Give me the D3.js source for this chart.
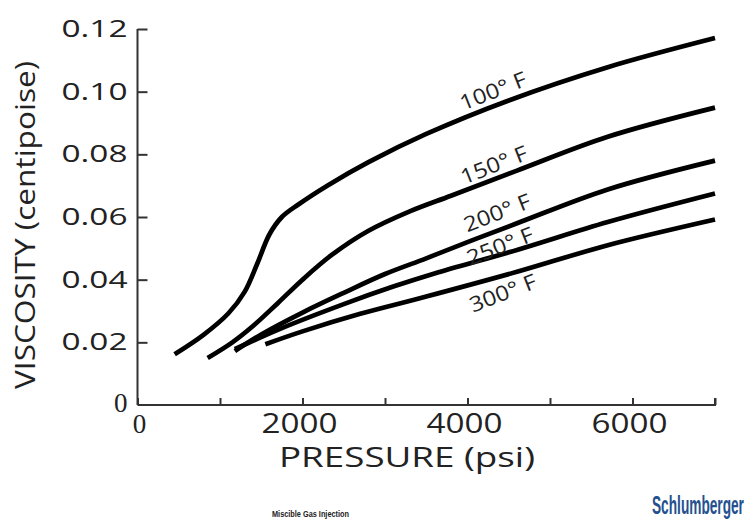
<!DOCTYPE html>
<html>
<head>
<meta charset="utf-8">
<script src="https://cdn.jsdelivr.net/npm/d3@7"></script>
<style>
  html, body { margin: 0; padding: 0; background: #fff; }
  svg { display: block; }
</style>
</head>
<body>
<svg id="chart" width="753" height="521"></svg>
<script>
// Gas viscosity vs pressure at several temperatures
const temperatures = ["100° F", "150° F", "200° F", "250° F", "300° F"];

const pressure100 = [450, 800, 1100, 1300, 1450, 1600, 1750, 1950, 2300, 2800, 3500, 4500, 5700, 7000];
const viscosity100 = [0.0162, 0.0224, 0.0292, 0.0362, 0.0450, 0.0545, 0.0600, 0.0640, 0.0700, 0.0775, 0.0865, 0.0972, 0.1078, 0.1171];

const pressure150 = [850, 1150, 1400, 1700, 2000, 2350, 2800, 3300, 3800, 4600, 5700, 7000];
const viscosity150 = [0.0150, 0.0200, 0.0252, 0.0325, 0.0400, 0.0478, 0.0556, 0.0618, 0.0668, 0.0748, 0.0856, 0.0949];

const pressure200 = [1180, 1500, 2000, 2500, 3000, 3500, 4000, 4600, 5700, 7000];
const viscosity200 = [0.0172, 0.0225, 0.0295, 0.0358, 0.0418, 0.0468, 0.0520, 0.0580, 0.0688, 0.0780];

const pressure250 = [1180, 1700, 2500, 3100, 3600, 4600, 5700, 7000];
const viscosity250 = [0.0178, 0.0240, 0.0322, 0.0378, 0.0420, 0.0495, 0.0584, 0.0675];

const pressure300 = [1550, 2000, 2700, 3500, 4600, 5700, 7000];
const viscosity300 = [0.0194, 0.0235, 0.0291, 0.0346, 0.0425, 0.0510, 0.0592];

// where each temperature label sits, in data units
const labelPressure = [4310, 4320, 4360, 4395, 4430];
const labelViscosity = [0.1002, 0.0766, 0.0613, 0.0507, 0.0357];

const xTicks = [0, 1000, 2000, 3000, 4000, 5000, 6000, 7000];
const xTickLabels = ["", "", "2000", "", "4000", "", "6000", ""];
const yTicks = [0.02, 0.04, 0.06, 0.08, 0.10, 0.12];
const yTickLabels = ["0.02", "0.04", "0.06", "0.08", "0.10", "0.12"];

const series = [
  [pressure100, viscosity100],
  [pressure150, viscosity150],
  [pressure200, viscosity200],
  [pressure250, viscosity250],
  [pressure300, viscosity300]
].map(([p, v]) => p.map((d, i) => ({ p: d, v: v[i] })));

const svg = d3.select("#chart");
const x = d3.scaleLinear().domain([0, 7000]).range([137.5, 715]);
const y = d3.scaleLinear().domain([0, 0.12]).range([405, 29]);

const axisColor = "#333";
const sansFont = "'Open Sans', 'DejaVu Sans', sans-serif";

// x axis (ticks point up into the plot)
const xAxis = svg.append("g")
  .attr("transform", `translate(0,${y(0)})`)
  .call(d3.axisTop(x).tickValues(xTicks).tickSize(7).tickFormat(""));
xAxis.select(".domain").attr("d", `M${x(0)},0H${x(7000)}V-7`).attr("stroke", axisColor).attr("stroke-width", 2);
xAxis.selectAll(".tick line").attr("stroke", axisColor).attr("stroke-width", 2);

// y axis (ticks point right into the plot)
const yAxis = svg.append("g")
  .attr("transform", `translate(${x(0)},0)`)
  .call(d3.axisRight(y).tickValues(yTicks).tickSize(10).tickFormat(""));
yAxis.select(".domain").attr("d", `M0,${y(0)}V${y(0.12)}`).attr("stroke", axisColor).attr("stroke-width", 2);
yAxis.selectAll(".tick line").attr("stroke", axisColor).attr("stroke-width", 2);

// tick labels
svg.append("g").selectAll("text")
  .data(yTicks)
  .join("text")
  .attr("x", x(0) - 10)
  .attr("y", d => y(d) + 8)
  .attr("text-anchor", "end")
  .attr("font-family", sansFont)
  .attr("font-size", 23)
  .attr("fill", "#222")
  .attr("textLength", 66)
  .attr("lengthAdjust", "spacingAndGlyphs")
  .text((d, i) => yTickLabels[i]);

svg.append("g").selectAll("text")
  .data(xTicks.filter((d, i) => xTickLabels[i] !== ""))
  .join("text")
  .attr("x", d => x(d) - 3)
  .attr("y", y(0) + 28)
  .attr("text-anchor", "middle")
  .attr("font-family", sansFont)
  .attr("font-size", 27)
  .attr("fill", "#222")
  .attr("textLength", 76)
  .attr("lengthAdjust", "spacingAndGlyphs")
  .text(d => xTickLabels[xTicks.indexOf(d)]);

// origin zeros
svg.append("text")
  .attr("x", x(0) - 10).attr("y", y(0) + 7)
  .attr("text-anchor", "end")
  .attr("font-family", "'Liberation Serif', serif")
  .attr("font-size", 27).attr("fill", "#222")
  .text("0");
svg.append("text")
  .attr("x", x(0) + 2).attr("y", y(0) + 28)
  .attr("text-anchor", "middle")
  .attr("font-family", "'Liberation Serif', serif")
  .attr("font-size", 27).attr("fill", "#222")
  .text("0");

// axis titles
svg.append("text")
  .attr("transform", "translate(35,225) rotate(-90)")
  .attr("text-anchor", "middle")
  .attr("font-family", sansFont)
  .attr("font-size", 27)
  .attr("fill", "#222")
  .attr("textLength", 328)
  .attr("lengthAdjust", "spacingAndGlyphs")
  .text("VISCOSITY (centipoise)");

svg.append("text")
  .attr("x", 407).attr("y", 467)
  .attr("text-anchor", "middle")
  .attr("font-family", sansFont)
  .attr("font-size", 27)
  .attr("fill", "#222")
  .attr("textLength", 256)
  .attr("lengthAdjust", "spacingAndGlyphs")
  .text("PRESSURE (psi)");

// curves
const line = d3.line()
  .x(d => x(d.p))
  .y(d => y(d.v))
  .curve(d3.curveCatmullRom.alpha(0.5));

svg.append("g").selectAll("path")
  .data(series)
  .join("path")
  .attr("d", line)
  .attr("fill", "none")
  .attr("stroke", "#000")
  .attr("stroke-width", 4.7)
  .attr("stroke-linecap", "butt");

// temperature labels
svg.append("g").selectAll("text")
  .data(temperatures)
  .join("text")
  .attr("transform", (d, i) => `translate(${x(labelPressure[i])},${y(labelViscosity[i])}) rotate(-21.5)`)
  .attr("dy", "0.35em")
  .attr("text-anchor", "middle")
  .attr("font-family", sansFont)
  .attr("font-size", 21)
  .attr("fill", "#222")
  .attr("textLength", 70)
  .attr("lengthAdjust", "spacingAndGlyphs")
  .text(d => d);

// footer
svg.append("text")
  .attr("x", 272).attr("y", 517)
  .attr("font-family", "'Liberation Sans', Arial, sans-serif")
  .attr("font-weight", "bold")
  .attr("font-size", 8.5)
  .attr("fill", "#222")
  .attr("textLength", 77)
  .attr("lengthAdjust", "spacingAndGlyphs")
  .text("Miscible Gas Injection");

// condensed brand wordmark: squeeze horizontally to a fixed width
const brand = svg.append("text")
  .attr("font-family", "'Liberation Sans Narrow', 'Liberation Sans', sans-serif")
  .attr("font-weight", "bold")
  .attr("font-size", 25)
  .attr("fill", "#24508f")
  .text("Schlumberger");
const brandWidth = brand.node().getComputedTextLength();
brand.attr("transform", `translate(652,514) scale(${92 / brandWidth},1)`);
</script>
</body>
</html>
